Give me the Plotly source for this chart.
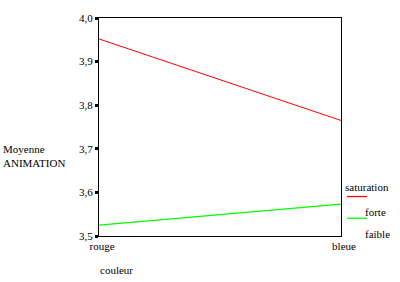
import plotly.graph_objects as go

categories = ["rouge", "bleue"]
x_pos = [0, 1]
forte = [3.952, 3.765]
faible = [3.525, 3.573]
y_tickvals = [3.5, 3.6, 3.7, 3.8, 3.9, 4.0]
y_ticktext = ["3,5", "3,6", "3,7", "3,8", "3,9", "4,0"]

FONT = "'Times New Roman', 'Liberation Serif', 'DejaVu Serif', serif"

fig = go.Figure()
fig.add_trace(go.Scatter(x=x_pos, y=forte, mode="lines",
                         line=dict(color="#ff0000", width=1), showlegend=False))
fig.add_trace(go.Scatter(x=x_pos, y=faible, mode="lines",
                         line=dict(color="#00ff00", width=1.3), showlegend=False))

L, R, T, B = 99, 59, 15, 46
W, H = 400, 282

fig.update_layout(
    width=W, height=H,
    margin=dict(l=L, r=R, t=T, b=B),
    paper_bgcolor="white", plot_bgcolor="white",
    font=dict(family=FONT, size=11, color="black"),
    xaxis=dict(range=[0, 1], tickvals=x_pos, ticktext=categories,
               showgrid=False, zeroline=False, showline=True, mirror=True,
               linecolor="black", linewidth=1.2, ticks="", ticklabelshift=3,
               tickfont=dict(family=FONT, size=11)),
    yaxis=dict(range=[3.5, 4.0], tickvals=y_tickvals, ticktext=y_ticktext,
               showgrid=False, zeroline=False, showline=True, mirror=True,
               linecolor="black", linewidth=1.2, ticks="outside", ticklen=3,
               tickwidth=2.5, tickcolor="black", ticklabelstandoff=0,
               tickfont=dict(family=FONT, size=11)),
)


def px_to_paper(xp, yp):
    return (xp - L) / (W - L - R), (H - B - yp) / (H - T - B)


annots = [
    ("Moyenne<br>ANIMATION", 1, 155),
    ("couleur", 98, 270),
    ("saturation", 343, 186),
    ("forte", 363, 212),
    ("faible", 363, 234),
]
for text, xp, yp in annots:
    px, py = px_to_paper(xp, yp)
    fig.add_annotation(text=text, x=px, y=py,
                       xref="paper", yref="paper", xanchor="left",
                       yanchor="middle", align="left", showarrow=False,
                       font=dict(family=FONT, size=11, color="black"))

for color, ypix in [("#ff0000", 196), ("#00ff00", 218)]:
    x0, y0 = px_to_paper(347, ypix)
    x1, _ = px_to_paper(367, ypix)
    fig.add_shape(type="line", xref="paper", yref="paper", x0=x0, x1=x1,
                  y0=y0, y1=y0, line=dict(color=color, width=1.3))

fig.write_html("out.html")
